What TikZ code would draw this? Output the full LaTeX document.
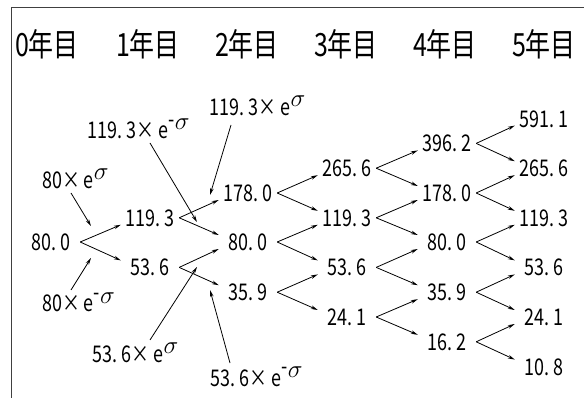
\documentclass[tikz,border=0pt]{standalone}
\usepackage{fontspec}
\newfontfamily\jp[FakeStretch=0.78]{Noto Sans CJK JP}
\usetikzlibrary{arrows.meta,calc}
\newcommand\dt{\makebox[0.43em][l]{.}}
\newcommand\sig{\raisebox{9pt}{$\sigma$}}
\newcommand\nsig{\raisebox{9pt}{\raisebox{2.5pt}{-}$\sigma$}}
\begin{document}
\begin{tikzpicture}[x=1pt,y=-1pt,
  num/.style={font={\jp\fontsize{23}{23}\selectfont}, inner sep=0pt, minimum width=58pt, text height=17pt, text depth=0pt},
  hdr/.style={font={\jp\fontsize{32}{32}\selectfont}, inner sep=0pt, anchor=base},
  lab/.style={font={\jp\fontsize{23}{23}\selectfont}, inner sep=0pt, anchor=base west},
  arr/.style={-{Stealth[length=7pt,width=3.6pt]}, line width=0.8pt},
  frame/.style={line width=1pt, black!75}]
\useasboundingbox (0,0) rectangle (584,398);
\begin{scope}
\clip (0,0) rectangle (584,398);
\draw[frame] (11,7.5) rectangle (600,420);
\end{scope}
% headers
\node[hdr] (h0) at (47,57) {0年目};
\node[hdr] (h1) at (148,57) {1年目};
\node[hdr] (h2) at (247,57) {2年目};
\node[hdr] (h3) at (346,57) {3年目};
\node[hdr] (h4) at (445,57) {4年目};
\node[hdr] (h5) at (544,57) {5年目};
% tree nodes
\node[num] (n0-5) at (51,242) {80\dt0};
\node[num] (n1-4) at (150,217.8) {119\dt3};
\node[num] (n1-6) at (150,267.4) {53\dt6};
\node[num] (n2-3) at (248,193) {178\dt0};
\node[num] (n2-5) at (248,242) {80\dt0};
\node[num] (n2-7) at (248,292.2) {35\dt9};
\node[num] (n3-2) at (347,168.2) {265\dt6};
\node[num] (n3-4) at (347,217.8) {119\dt3};
\node[num] (n3-6) at (347,267.4) {53\dt6};
\node[num] (n3-8) at (347,317) {24\dt1};
\node[num] (n4-1) at (447,143.4) {396\dt2};
\node[num] (n4-3) at (447,193) {178\dt0};
\node[num] (n4-5) at (447,242) {80\dt0};
\node[num] (n4-7) at (447,292.2) {35\dt9};
\node[num] (n4-9) at (447,341.8) {16\dt2};
\node[num] (n5-0) at (544,118.6) {591\dt1};
\node[num] (n5-2) at (544,168.2) {265\dt6};
\node[num] (n5-4) at (544,217.8) {119\dt3};
\node[num] (n5-6) at (544,267.4) {53\dt6};
\node[num] (n5-8) at (544,317) {24\dt1};
\node[num] (n5-10) at (544,366.6) {10\dt8};
\foreach \c/\r in {0/5,1/4,1/6,2/3,2/5,2/7,3/2,3/4,3/6,3/8,4/1,4/3,4/5,4/7,4/9}{
  \pgfmathtruncatemacro\cn{\c+1}
  \pgfmathtruncatemacro\ru{\r-1}
  \pgfmathtruncatemacro\rd{\r+1}
  \draw[arr] (n\c-\r.east) -- ([yshift=-7pt]n\cn-\ru.west);
  \draw[arr] (n\c-\r.east) -- ([yshift=7pt]n\cn-\rd.west);
}
% labels
\node[lab] (L1) at (42,189) {80×\,e\sig};
\node[lab] (L2) at (87,139) {119\dt3×\,e\nsig};
\node[lab] (L3) at (209,116) {119\dt3×\,e\sig};
\node[lab] (L4) at (42,312) {80×\,e\nsig};
\node[lab] (L5) at (92,362) {53\dt6×\,e\sig};
\node[lab] (L6) at (210,386) {53\dt6×\,e\nsig};
\coordinate (p1) at (91,226);
\coordinate (p2) at (197,222);
\coordinate (p3) at (210,195);
\coordinate (p4) at (91,258);
\coordinate (p5) at (197,267);
\coordinate (p6) at (210,290);
\draw[arr] ($(L1.base west)+(29,4)$) -- (p1);
\draw[arr] ($(L2.base west)+(63,4)$) -- (p2);
\draw[arr] ($(L3.base west)+(22,9)$) -- (p3);
\draw[arr] ($(L4.base west)+(29,-22)$) -- (p4);
\draw[arr] ($(L5.base west)+(58,-22)$) -- (p5);
\draw[arr] ($(L6.base west)+(20,-23)$) -- (p6);
\end{tikzpicture}
\end{document}
